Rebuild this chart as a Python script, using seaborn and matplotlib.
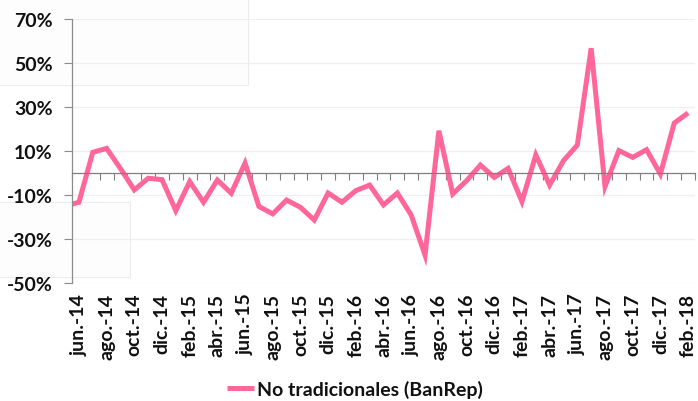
import numpy as np
import pandas as pd
import matplotlib.pyplot as plt
from matplotlib.patches import Rectangle
import seaborn as sns

sns.set_theme(style="white")
plt.rcParams["font.family"] = ["Lato", "DejaVu Sans"]

# ── Data (annual % change, monthly, may-14 .. feb-18) ───────────────────────
months = ["may.-14", "jun.-14", "jul.-14", "ago.-14", "sep.-14", "oct.-14", "nov.-14", "dic.-14",
          "ene.-15", "feb.-15", "mar.-15", "abr.-15", "may.-15", "jun.-15", "jul.-15", "ago.-15",
          "sep.-15", "oct.-15", "nov.-15", "dic.-15", "ene.-16", "feb.-16", "mar.-16", "abr.-16",
          "may.-16", "jun.-16", "jul.-16", "ago.-16", "sep.-16", "oct.-16", "nov.-16", "dic.-16",
          "ene.-17", "feb.-17", "mar.-17", "abr.-17", "may.-17", "jun.-17", "jul.-17", "ago.-17",
          "sep.-17", "oct.-17", "nov.-17", "dic.-17", "ene.-18", "feb.-18"]
values = [-15.0, -13.3, 9.4, 11.2, 2.0, -7.7, -2.4, -3.0,
          -17.1, -3.9, -13.3, -3.2, -9.2, 4.5, -15.2, -18.6,
          -12.3, -15.6, -21.4, -9.1, -13.3, -8.0, -5.5, -14.5,
          -9.1, -19.1, -37.3, 19.2, -9.5, -3.5, 3.6, -2.0,
          2.1, -13.0, 8.2, -5.5, 5.6, 12.7, 56.7, -6.1,
          10.2, 7.1, 10.6, -0.5, 22.7, 27.3]
tick_labels = ["jun.-14", "ago.-14", "oct.-14", "dic.-14", "feb.-15", "abr.-15", "jun.-15",
               "ago.-15", "oct.-15", "dic.-15", "feb.-16", "abr.-16", "jun.-16", "ago.-16",
               "oct.-16", "dic.-16", "feb.-17", "abr.-17", "jun.-17", "ago.-17", "oct.-17",
               "dic.-17", "feb.-18"]
y_ticks = [-50, -30, -10, 10, 30, 50, 70]
series_name = "No tradicionales (BanRep)"

df = pd.DataFrame({"Mes": months, "Variacion": values})
df["pos"] = np.arange(len(df))

# ── Figure ──────────────────────────────────────────────────────────────────
W, H = 698, 402
fig = plt.figure(figsize=(W / 100, H / 100), dpi=100)
fig.patch.set_facecolor("white")

# faint window artifacts visible behind the chart
for (x0, y0, w, h) in [(-5, -5, 253, 91), (-5, 203, 135, 75)]:
    fig.add_artist(Rectangle((x0 / W, 1 - (y0 + h) / H), w / W, h / H,
                             transform=fig.transFigure, facecolor="#fdfdfd",
                             edgecolor="#ececec", lw=0.8, zorder=0))

ax = fig.add_axes([72 / W, 1 - 284 / H, (695 - 72) / W, (284 - 20) / H])
ax.set_facecolor("none")

pink = "#ff6699"
sns.lineplot(data=df, x="pos", y="Variacion", ax=ax, color=pink,
             linewidth=3.6, label=series_name, legend=False,
             solid_joinstyle="miter", solid_capstyle="butt")

ax.set_xlim(0.5, len(df) - 0.5)
ax.set_ylim(-50, 70)
ax.set_yticks(y_ticks)
ax.set_yticklabels([f"{v}%" for v in y_ticks])
ax.yaxis.grid(True, color="#efefef", lw=0.9)
ax.set_axisbelow(True)

for s in ["top", "right"]:
    ax.spines[s].set_visible(False)
ax.spines["left"].set_color("#8c8c8c")
ax.spines["left"].set_linewidth(0.9)
ax.spines["bottom"].set_position(("data", 0))
ax.spines["bottom"].set_color("#7f7f7f")
ax.spines["bottom"].set_linewidth(0.9)

# month boundary ticks on the zero line
ax.set_xticks(np.arange(0.5, len(df), 1.0))
ax.tick_params(axis="x", bottom=True, direction="out", length=5, width=0.8,
               color="#7f7f7f", labelbottom=False)
ax.tick_params(axis="y", left=True, direction="out", length=6, width=0.8,
               color="#8c8c8c", pad=8, labelsize=14, labelcolor="#111111")
for t in ax.get_yticklabels():
    t.set_fontweight("bold")
ax.set_xlabel("")
ax.set_ylabel("")

# category labels along the bottom of the plot area
sec = ax.secondary_xaxis("bottom")
sec.set_xticks(df["pos"].iloc[1::2].values)
sec.set_xticklabels(tick_labels, rotation=90, fontsize=14,
                    fontweight="bold", color="#111111")
sec.tick_params(bottom=True, length=0, pad=7)
sec.spines["bottom"].set_visible(False)

handles, labels = ax.get_legend_handles_labels()
leg = fig.legend(handles, labels, loc="center", bbox_to_anchor=(0.509, 1 - 390 / H),
                 frameon=False, handlelength=1.4, handletextpad=0.15,
                 prop={"size": 14, "weight": "bold"})
for t in leg.get_texts():
    t.set_color("#111111")

fig.savefig("out.png", dpi=100)
